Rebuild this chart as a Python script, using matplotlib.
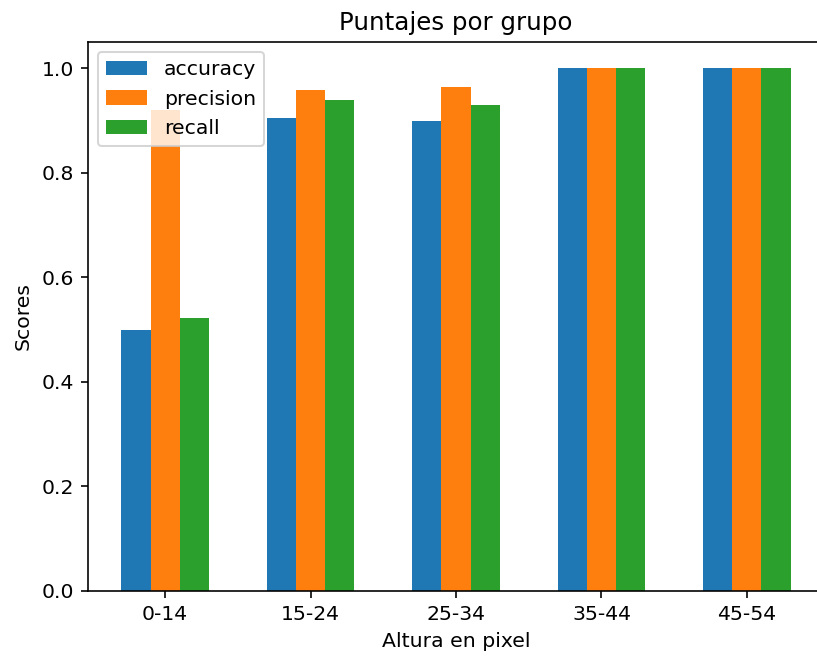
import matplotlib
matplotlib.use('Agg')
import matplotlib.pyplot as plt
import numpy as np

# datos por grupo de altura
grupos = ['0-14', '15-24', '25-34', '35-44', '45-54']
accuracy = [0.500, 0.904, 0.898, 1.0, 1.0]
precision = [0.920, 0.959, 0.963, 1.0, 1.0]
recall = [0.523, 0.940, 0.929, 1.0, 1.0]

# la imagen original es una figura ampliada ~1.47x, se imita con el dpi
dpi = 147.2
fig = plt.figure(figsize=(817 / dpi, 656 / dpi), dpi=dpi)
# la imagen original está recortada a la derecha, el eje sobresale un poco
ax = fig.add_axes([88 / 817, 1 - 591 / 656, 736 / 817, 549 / 656])

x = np.arange(len(grupos))
ancho = 0.2
ax.bar(x - ancho, accuracy, ancho, label='accuracy')
ax.bar(x, precision, ancho, label='precision')
ax.bar(x + ancho, recall, ancho, label='recall')

ax.set_xticks(x)
ax.set_xticklabels(grupos)
ax.set_xlabel('Altura en pixel')
ax.set_ylabel('Scores')
ax.set_title('Puntajes por grupo')
ax.legend(loc='upper left')
# el borde derecho queda fuera del recorte
ax.spines['right'].set_visible(False)

fig.savefig('out.png', dpi=dpi)
